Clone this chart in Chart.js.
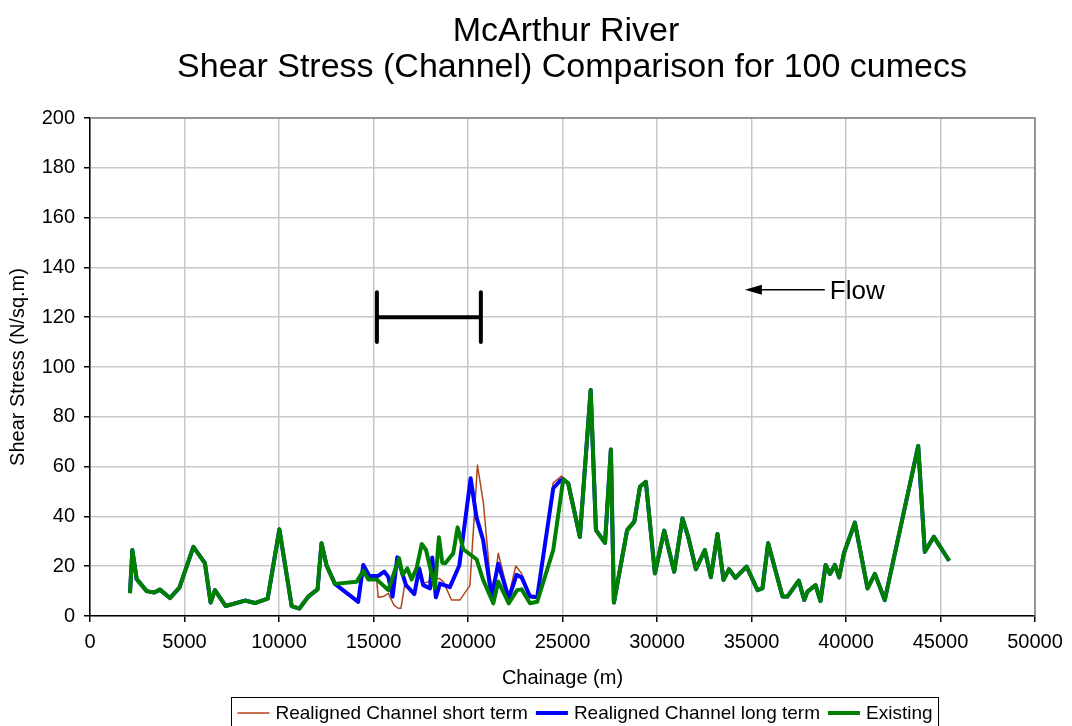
<!DOCTYPE html>
<html>
<head>
<meta charset="utf-8">
<script src="https://cdn.jsdelivr.net/npm/chart.js@4"></script>
<style>
  body { margin: 0; background: #fff; }
  #wrap { width: 1072px; height: 726px; }
</style>
</head>
<body>
<div id="wrap"><canvas id="myChart"></canvas></div>
<script>
// chainage (m) and shear stress (N/sq.m)
const existingX = [2116, 2240, 2470, 3000, 3400, 3700, 4230, 4730, 5470, 6080, 6380, 6610, 7180, 8200, 8730, 9400,
  10020, 10670, 11080, 11550, 12040, 12250, 12520, 12960, 14110, 14460, 14730, 15170, 15780, 16350, 16540, 16790,
  17020, 17280, 17550, 17780, 18250, 18460, 18640, 18800, 19220, 19450, 19750, 20450, 20800, 21340, 21600, 22160,
  22600, 22840, 23280, 23660, 24510, 25040, 25300, 25920, 26490, 26770, 27250, 27560, 27720, 28420, 28800, 29100,
  29410, 29890, 30380, 30910, 31350, 31650, 32060, 32530, 32850, 33200, 33520, 33810, 34150, 34740, 35320, 35580,
  35880, 36640, 36900, 37500, 37790, 37960, 38390, 38650, 38920, 39150, 39410, 39640, 39890, 40470, 41140, 41530,
  42050, 43820, 44170, 44650, 45460];
const existingY = [9.2, 26.5, 14.8, 10, 9.4, 10.6, 7.2, 11.4, 27.8, 21.2, 5.4, 10.4, 4, 6.2, 5.2, 7,
  34.8, 4, 3, 7.8, 10.7, 29.2, 20.2, 12.9, 13.8, 18.2, 14.7, 14.7, 10.4, 23.2, 16.5, 19.1,
  14.7, 19.1, 28.9, 26.5, 11.1, 31.6, 21.4, 21.2, 25.2, 35.6, 26.8, 22.8, 14.5, 5.1, 13.8, 5.1,
  10.4, 10.7, 5.1, 5.7, 26.5, 54.9, 53.3, 31.8, 90.8, 34.5, 29.4, 66.9, 5.4, 34.5, 37.9, 51.9,
  53.9, 17.1, 34.3, 17.8, 39.2, 31.8, 18.8, 26.5, 15.6, 32.9, 14.5, 18.8, 15.3, 19.8, 10.4, 11.1,
  29.2, 7.8, 7.8, 14.2, 6.4, 9.8, 12.4, 6.0, 20.5, 16.9, 20.5, 15.5, 25.2, 37.5, 11.1, 16.9,
  6.4, 68.3, 25.8, 31.8, 22.2];

// realigned reach only, outside it the realigned runs follow the existing channel
const longTermX = [12960, 14190, 14460, 14780, 15250, 15570, 15780, 16010, 16260, 16720, 17160, 17420, 17630, 17990,
  18110, 18300, 18520, 19040, 19540, 20140, 20450, 20800, 21250, 21600, 22160, 22570, 22840, 23280, 23660, 24510,
  24870, 25040];
const longTermY = [12.9, 5.7, 20.5, 16.1, 16.1, 17.8, 15.8, 7.8, 23.6, 12.4, 8.8, 19.1, 12.4, 11.1,
  23.5, 7.5, 13, 11.6, 20.3, 55.3, 39.6, 30.5, 7.8, 21, 7.1, 16.5, 15.5, 7.8, 7.5, 51.3,
  54.3, 54.9];

const shortTermX = [12960, 14190, 14460, 14780, 15150, 15250, 15520, 15780, 16080, 16300, 16450, 16660, 17100, 17400,
  17630, 17990, 18480, 18690, 19130, 19570, 20100, 20500, 20820, 21160, 21340, 21600, 22160, 22530, 22840, 23280,
  23660, 24510, 24950, 25300];
const shortTermY = [12.9, 5.7, 20.5, 16.1, 16.1, 7.5, 7.8, 9.1, 4.4, 3.1, 3.1, 13, 8.8, 16,
  13, 14, 15.1, 13.8, 6.4, 6.4, 12.2, 60.6, 45, 16, 9, 25.2, 8.2, 20.1, 17, 8.4,
  8, 53.5, 56.2, 53.3];

const xTicks = [0, 5000, 10000, 15000, 20000, 25000, 30000, 35000, 40000, 45000, 50000];
const yTicks = [0, 20, 40, 60, 80, 100, 120, 140, 160, 180, 200];

// reach marker and flow arrow, in data units
const reachStart = 15180, reachEnd = 20680, reachLevel = 120, reachCap = 10;
const flowFrom = 38880, flowTo = 34650, flowLevel = 131;

const toPoints = (xs, ys) => xs.map((x, i) => ({ x: x, y: ys[i] }));
const existing = toPoints(existingX, existingY);
const withExisting = (xs, ys) => {
  const before = existing.filter(p => p.x < xs[0]);
  const after = existing.filter(p => p.x > xs[xs.length - 1]);
  return before.concat(toPoints(xs, ys), after);
};

const FONT = '"Liberation Sans", Arial, sans-serif';

const titlePlugin = {
  id: 'twoLineTitle',
  afterDraw(chart) {
    const ctx = chart.ctx;
    ctx.save();
    ctx.fillStyle = '#000';
    ctx.font = `34px ${FONT}`;
    ctx.textAlign = 'center';
    ctx.textBaseline = 'alphabetic';
    ctx.fillText('McArthur River', 566, 41);
    ctx.fillText('Shear Stress (Channel) Comparison for 100 cumecs', 572, 77);
    ctx.restore();
  }
};

const extrasPlugin = {
  id: 'extras',
  beforeDatasetsDraw(chart) {
    // plot frame top/right
    const { ctx, chartArea: a } = chart;
    ctx.save();
    ctx.strokeStyle = '#808080';
    ctx.lineWidth = 1.5;
    ctx.beginPath();
    ctx.moveTo(a.left, a.top);
    ctx.lineTo(a.right, a.top);
    ctx.lineTo(a.right, a.bottom);
    ctx.stroke();
    ctx.restore();
  },
  afterDatasetsDraw(chart) {
    const ctx = chart.ctx;
    const xs = chart.scales.x, ys = chart.scales.y;
    ctx.save();
    ctx.strokeStyle = '#000';
    ctx.fillStyle = '#000';
    ctx.lineCap = 'round';
    ctx.lineWidth = 4;
    const x1 = xs.getPixelForValue(reachStart), x2 = xs.getPixelForValue(reachEnd);
    const yMid = ys.getPixelForValue(reachLevel);
    const yTop = ys.getPixelForValue(reachLevel + reachCap), yBot = ys.getPixelForValue(reachLevel - reachCap);
    ctx.beginPath();
    ctx.moveTo(x1, yTop); ctx.lineTo(x1, yBot);
    ctx.moveTo(x2, yTop); ctx.lineTo(x2, yBot);
    ctx.moveTo(x1, yMid); ctx.lineTo(x2, yMid);
    ctx.stroke();

    // flow arrow
    const fx1 = xs.getPixelForValue(flowFrom), fx2 = xs.getPixelForValue(flowTo);
    const fy = ys.getPixelForValue(flowLevel);
    ctx.lineWidth = 1.5;
    ctx.lineCap = 'butt';
    ctx.beginPath();
    ctx.moveTo(fx1, fy); ctx.lineTo(fx2 + 10, fy);
    ctx.stroke();
    ctx.beginPath();
    ctx.moveTo(fx2, fy);
    ctx.lineTo(fx2 + 17, fy - 5);
    ctx.lineTo(fx2 + 17, fy + 5);
    ctx.closePath();
    ctx.fill();
    ctx.font = `26px ${FONT}`;
    ctx.textBaseline = 'middle';
    ctx.fillText('Flow', fx1 + 5, fy + 2);
    ctx.restore();
  },
  afterDraw(chart) {
    // legend in a box, centred under the plot like the original
    const ctx = chart.ctx;
    const items = chart.data.datasets;
    const lineLen = 32, gapLine = 6, gapItem = 8, pad = 6;
    ctx.save();
    ctx.font = `19px ${FONT}`;
    const widths = items.map(d => ctx.measureText(d.label).width);
    const total = widths.reduce((s, w) => s + w, 0) + items.length * (lineLen + gapLine) + (items.length - 1) * gapItem;
    const cx = 585, cy = 713;
    let x = cx - total / 2;
    ctx.strokeStyle = '#000';
    ctx.lineWidth = 1;
    ctx.strokeRect(Math.round(x - pad) + 0.5, 697.5, Math.round(total + 2 * pad), 40);
    ctx.textBaseline = 'middle';
    ctx.fillStyle = '#000';
    items.forEach((d, i) => {
      ctx.strokeStyle = d.borderColor;
      ctx.lineWidth = d.borderWidth;
      ctx.beginPath();
      ctx.moveTo(x, cy);
      ctx.lineTo(x + lineLen, cy);
      ctx.stroke();
      x += lineLen + gapLine;
      ctx.fillText(d.label, x, cy + 1);
      x += widths[i] + gapItem;
    });
    ctx.restore();
  }
};

const ctx = document.getElementById('myChart').getContext('2d');
const shearChart = new Chart(ctx, {
  type: 'scatter',
  data: {
    datasets: [
      {
        label: 'Realigned Channel short term',
        data: withExisting(shortTermX, shortTermY),
        borderColor: '#b0461a',
        backgroundColor: '#b0461a',
        borderWidth: 1.5,
        order: 3
      },
      {
        label: 'Realigned Channel long term',
        data: withExisting(longTermX, longTermY),
        borderColor: '#0000ff',
        backgroundColor: '#0000ff',
        borderWidth: 4,
        order: 2
      },
      {
        label: 'Existing',
        data: existing,
        borderColor: '#008000',
        backgroundColor: '#008000',
        borderWidth: 4,
        order: 1
      }
    ]
  },
  options: {
    responsive: true,
    maintainAspectRatio: false,
    animation: false,
    showLine: true,
    elements: {
      point: { radius: 0, hoverRadius: 0 },
      line: { tension: 0, borderJoinStyle: 'round' }
    },
    layout: { padding: { top: 118, right: 37, left: 0, bottom: 0 } },
    scales: {
      x: {
        type: 'linear',
        min: 0,
        max: 50000,
        afterBuildTicks: (scale) => { scale.ticks = xTicks.map(v => ({ value: v })); },
        afterFit: (scale) => { scale.height = 110; },
        ticks: { color: '#000', font: { family: FONT, size: 20 }, padding: 8, maxRotation: 0, autoSkip: false,
                 callback: (v) => String(v) },
        grid: { color: '#c8c8c8', lineWidth: 1.5, tickColor: '#000', tickLength: 6 },
        border: { color: '#000', width: 1.5 },
        title: { display: true, text: 'Chainage (m)', color: '#000', font: { family: FONT, size: 20 }, padding: { top: 0, bottom: 36 } }
      },
      y: {
        min: 0,
        max: 200,
        afterBuildTicks: (scale) => { scale.ticks = yTicks.map(v => ({ value: v })); },
        afterFit: (scale) => { scale.width = 90; },
        ticks: { color: '#000', font: { family: FONT, size: 20 }, padding: 9 },
        grid: { color: '#c8c8c8', lineWidth: 1.5, tickColor: '#000', tickLength: 6 },
        border: { color: '#000', width: 1.5 },
        title: { display: true, text: 'Shear Stress (N/sq.m)', color: '#000', font: { family: FONT, size: 20 }, padding: { top: 6, bottom: 4 } }
      }
    },
    plugins: {
      legend: { display: false },
      tooltip: { enabled: false }
    }
  },
  plugins: [titlePlugin, extrasPlugin]
});
</script>
</body>
</html>
